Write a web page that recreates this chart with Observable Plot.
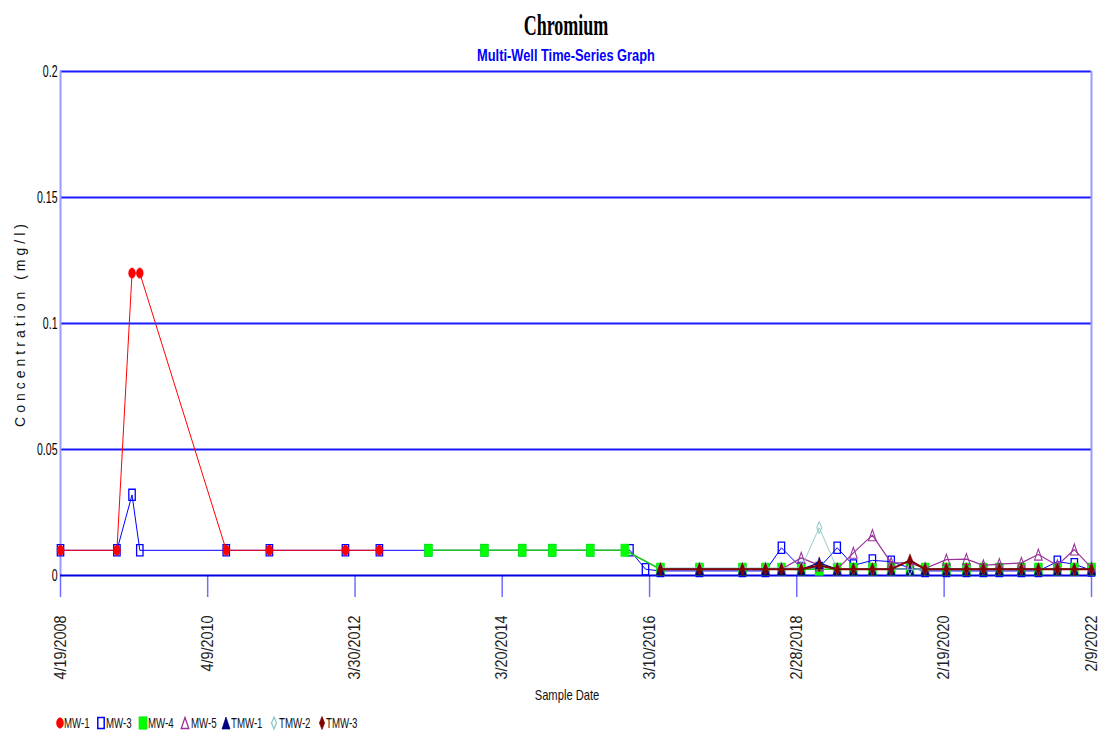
<!DOCTYPE html>
<html>
<head>
<meta charset="utf-8">
<script src="https://cdn.jsdelivr.net/npm/d3@7"></script>
<script src="https://cdn.jsdelivr.net/npm/@observablehq/plot@0.6"></script>
<style>
  body { margin: 0; background: #fff; }
  #page { position: relative; width: 1107px; height: 734px; overflow: hidden; font-family: "Liberation Sans", Arial, sans-serif; }
  #title { position: absolute; left: 566px; top: 11px; font: bold 29px/29px "Liberation Serif", "Times New Roman", serif; color: #000; white-space: nowrap; transform: translateX(-50%) scaleX(0.62); }
  #subtitle { position: absolute; left: 566px; top: 47px; font: bold 17px/17px "Liberation Sans", Arial, sans-serif; color: #0000ff; white-space: nowrap; transform: translateX(-50%) scaleX(0.755); }
  #chart { position: absolute; left: 0; top: 64px; }
  #legend { position: absolute; left: 0; top: 708px; width: 1107px; height: 26px; }
  .lg-sym { position: absolute; overflow: visible; }
  .lg-txt { position: absolute; font: 14px/14px "Liberation Sans", Arial, sans-serif; color: #111; white-space: nowrap; transform-origin: 0 50%; transform: scaleX(0.69); }
</style>
</head>
<body>
<div id="page">
  <div id="title">Chromium</div>
  <div id="subtitle">Multi-Well Time-Series Graph</div>
  <div id="chart"></div>
  <div id="legend"></div>
</div>
<script>
// ---- Sampling data (Chromium, mg/l) ----
const mw1 = [
  ["2008-04-19", 0.01], ["2009-01-20", 0.01], ["2009-04-04", 0.12], ["2009-05-12", 0.12],
  ["2010-07-09", 0.01], ["2011-02-05", 0.01], ["2012-02-12", 0.01], ["2012-07-27", 0.01]
];
const mw3Early = [
  ["2008-04-19", 0.01], ["2009-01-20", 0.01], ["2009-04-04", 0.032], ["2009-05-12", 0.01],
  ["2010-07-09", 0.01], ["2011-02-05", 0.01], ["2012-02-12", 0.01], ["2012-07-27", 0.01],
  ["2013-03-24", 0.01], ["2013-12-23", 0.01], ["2014-06-26", 0.01], ["2014-11-20", 0.01],
  ["2015-05-25", 0.01], ["2015-12-05", 0.01], ["2016-02-19", 0.0025]
];
const mw4Early = [
  ["2013-03-24", 0.01], ["2013-12-23", 0.01], ["2014-06-26", 0.01], ["2014-11-20", 0.01],
  ["2015-05-25", 0.01], ["2015-11-10", 0.01]
];

// Sampling events from 2016 on, shared by all wells
const lateDates = [
  "2016-05-02", "2016-11-09", "2017-06-07", "2017-09-28", "2017-12-15", "2018-03-22",
  "2018-06-18", "2018-09-14", "2018-12-02", "2019-03-05", "2019-06-05", "2019-09-05",
  "2019-11-18", "2020-03-01", "2020-06-07", "2020-08-29", "2020-11-15", "2021-03-03",
  "2021-05-25", "2021-08-26", "2021-11-17", "2022-02-09"
];
const mw3Late  = [0.0018, 0.0018, 0.0018, 0.0018, 0.011, 0.003, 0.003, 0.011, 0.004, 0.006, 0.0055, 0.003,
                  0.0018, 0.0018, 0.0018, 0.0018, 0.0018, 0.0018, 0.0018, 0.0055, 0.0045, 0.002];
const mw4Late  = [0.0025, 0.0025, 0.0025, 0.0025, 0.0025, 0.0025, 0.0025, 0.0025, 0.0025, 0.0025, 0.0025, 0.0025,
                  0.0025, 0.0025, 0.0025, 0.0025, 0.0025, 0.0025, 0.0025, 0.0025, 0.0025, 0.0025];
const mw5Late  = [0.0025, 0.0025, 0.0025, 0.0025, 0.0025, 0.007, 0.004, 0.0025, 0.009, 0.016, 0.005, 0.005,
                  0.0028, 0.0063, 0.0065, 0.004, 0.0045, 0.005, 0.0083, 0.004, 0.0103, 0.003];
const tmw1Late = [0.0025, 0.0025, 0.0025, 0.0025, 0.0025, 0.0025, 0.005, 0.0025, 0.0025, 0.0025, 0.0025, 0.0025,
                  0.0025, 0.0025, 0.0025, 0.0025, 0.0025, 0.0025, 0.0025, 0.0025, 0.0025, 0.0025];
const tmw2Late = [0.003, 0.003, 0.003, 0.003, 0.003, 0.003, 0.019, 0.0025, 0.0025, 0.0025, 0.0025, 0.0025,
                  0.0025, 0.0025, 0.0025, 0.0025, 0.0025, 0.0025, 0.0025, 0.0025, 0.0025, 0.0025];
const tmw3Late = [0.0025, 0.0025, 0.0025, 0.0025, 0.0025, 0.0025, 0.004, 0.0025, 0.0025, 0.0025, 0.0025, 0.006,
                  0.0025, 0.0025, 0.0025, 0.0025, 0.0025, 0.0025, 0.0025, 0.0025, 0.0025, 0.0025];

const xTickDates  = ["2008-04-19", "2010-04-09", "2012-03-30", "2014-03-20", "2016-03-10", "2018-02-28", "2020-02-19", "2022-02-09"];
const xTickLabels = ["4/19/2008", "4/9/2010", "3/30/2012", "3/20/2014", "3/10/2016", "2/28/2018", "2/19/2020", "2/9/2022"];
const yTicks      = [0, 0.05, 0.1, 0.15, 0.2];
const yTickLabels = ["0", "0.05", "0.1", "0.15", "0.2"];

// ---- Helpers ----
const parse = d3.utcParse("%Y-%m-%d");
const pairs = (arr) => arr.map(([d, v]) => ({date: parse(d), value: v}));
const late = (vals) => vals.map((v, i) => ({date: parse(lateDates[i]), value: v}));

// Marker shapes (taller than wide)
const ellipse = (rx, ry) => ({draw(c) {
  const kx = rx * 0.5523, ky = ry * 0.5523;
  c.moveTo(rx, 0);
  c.bezierCurveTo(rx, ky, kx, ry, 0, ry);
  c.bezierCurveTo(-kx, ry, -rx, ky, -rx, 0);
  c.bezierCurveTo(-rx, -ky, -kx, -ry, 0, -ry);
  c.bezierCurveTo(kx, -ry, rx, -ky, rx, 0);
  c.closePath();
}});
const box = (hw, hh) => ({draw(c) { c.rect(-hw, -hh, 2 * hw, 2 * hh); }});
const tri = (hw, hh) => ({draw(c) { c.moveTo(0, -hh); c.lineTo(hw, hh); c.lineTo(-hw, hh); c.closePath(); }});
const diamond = (hw, hh) => ({draw(c) { c.moveTo(0, -hh); c.lineTo(hw, 0); c.lineTo(0, hh); c.lineTo(-hw, 0); c.closePath(); }});

// Series, in drawing order
const series = [
  {name: "MW-3",  data: pairs(mw3Early).concat(late(mw3Late)), line: "#0000ff", lw: 1, sym: box(3.2, 5.6), fill: "none", stroke: "#0000ff", sw: 1.3},
  {name: "MW-1",  data: pairs(mw1), line: "#ff0000", lw: 1, sym: ellipse(3.4, 5.2), fill: "#ff0000", stroke: "#ff0000", sw: 0.5},
  {name: "MW-4",  data: pairs(mw4Early).concat(late(mw4Late)), line: "#22c422", lw: 1.6, sym: box(4, 6.2), fill: "#00ff00", stroke: "#00ee00", sw: 0.5},
  {name: "MW-5",  data: late(mw5Late), line: "#993399", lw: 1.2, sym: tri(3.8, 5.5), fill: "none", stroke: "#993399", sw: 1.1},
  {name: "TMW-1", data: late(tmw1Late), line: "#000080", lw: 1.2, sym: tri(4, 6), fill: "#000080", stroke: "#000080", sw: 0.5},
  {name: "TMW-2", data: late(tmw2Late), line: "#99cccc", lw: 1, sym: diamond(2.5, 6), fill: "none", stroke: "#88c4c4", sw: 1},
  {name: "TMW-3", data: late(tmw3Late), line: "#800000", lw: 2, sym: diamond(2.6, 6.5), fill: "#800000", stroke: "#800000", sw: 0.5}
];

const seriesMarks = series.flatMap((s) => [
  Plot.line(s.data, {x: "date", y: "value", stroke: s.line, strokeWidth: s.lw}),
  Plot.dot(s.data, {x: "date", y: "value", symbol: s.sym, r: 4, fill: s.fill, stroke: s.stroke, strokeWidth: s.sw})
]);

const xDomain = [parse(xTickDates[0]), parse(xTickDates[xTickDates.length - 1])];

const chart = Plot.plot({
  width: 1107,
  height: 644,
  marginTop: 7,
  marginLeft: 60,
  marginRight: 16,
  marginBottom: 133,
  style: {fontFamily: "'Liberation Sans', Arial, sans-serif", background: "#fff", overflow: "visible"},
  x: {type: "utc", domain: xDomain},
  y: {domain: [0, 0.2]},
  marks: [
    Plot.ruleY(yTicks.slice(1), {stroke: "#1a1aff", strokeWidth: 1.8}),
    Plot.ruleX(xDomain, {y1: 0, y2: 0.2, stroke: "#9a9aff", strokeWidth: 2}),
    Plot.axisY({
      ticks: yTicks, tickSize: 0, tickPadding: 3, fontSize: 17,
      tickFormat: (d) => yTickLabels[yTicks.indexOf(d)], label: null
    }),
    Plot.axisX({
      ticks: xTickDates.map(parse), tickSize: 22, tickPadding: 18, tickRotate: -90, fontSize: 16,
      stroke: "#6f6fff", strokeWidth: 1.5, fill: "#222",
      tickFormat: (d) => xTickLabels[xTickDates.indexOf(d3.utcFormat("%Y-%m-%d")(d))], label: null
    }),
    Plot.ruleY([0], {stroke: "#0000e0", strokeWidth: 2}),
    Plot.text(["Concentration (mg/l)"], {frameAnchor: "left", dx: -40, rotate: -90, fontSize: 14, fill: "#111", textAnchor: "start", className: "ylab"}),
    Plot.text(["Sample Date"], {frameAnchor: "bottom", dx: -9, dy: 124, fontSize: 14, fill: "#111", className: "xlab"}),
    ...seriesMarks
  ]
});

document.getElementById("chart").appendChild(chart);

// Condensed lettering for the tick labels and the date axis title
const svg = d3.select(chart);
const squeeze = (sel, sx) => sel.each(function () {
  const t = this.getAttribute("transform") || "";
  this.setAttribute("transform", t + ` scale(${sx},1)`);
});
squeeze(svg.selectAll('g[aria-label="y-axis tick label"] text'), 0.62);
squeeze(svg.selectAll('g[aria-label="x-axis tick label"] text'), 0.9);
squeeze(svg.selectAll('.xlab text'), 0.8);

// Spaced-out concentration title, centred along the frame height
svg.selectAll('.ylab text').each(function () {
  this.style.letterSpacing = "4px";
  const len = this.getComputedTextLength();
  const t = this.getAttribute("transform") || "";
  this.setAttribute("transform", t + ` translate(${-len / 2},0)`);
});

// ---- Legend ----
const legendItems = [
  {name: "MW-1",  cx: 59.5,  tx: 64},
  {name: "MW-3",  cx: 101,   tx: 106},
  {name: "MW-4",  cx: 142.5, tx: 147.5},
  {name: "MW-5",  cx: 185,   tx: 190.5},
  {name: "TMW-1", cx: 226,   tx: 230.5},
  {name: "TMW-2", cx: 274.3, tx: 278.5},
  {name: "TMW-3", cx: 321.7, tx: 326}
];
const legend = document.getElementById("legend");
const cy = 14.5;
for (const item of legendItems) {
  const s = series.find((d) => d.name === item.name);
  const p = d3.path();
  s.sym.draw(p);
  const sv = d3.create("svg").attr("class", "lg-sym").attr("width", 16).attr("height", 18)
    .style("left", (item.cx - 8) + "px").style("top", (cy - 9) + "px");
  sv.append("path").attr("d", p.toString()).attr("transform", "translate(8,9)")
    .attr("fill", s.fill).attr("stroke", s.stroke).attr("stroke-width", s.sw + 0.2);
  legend.appendChild(sv.node());
  const t = document.createElement("div");
  t.className = "lg-txt";
  t.textContent = item.name;
  t.style.left = item.tx + "px";
  t.style.top = (cy - 7) + "px";
  legend.appendChild(t);
}
</script>
</body>
</html>
